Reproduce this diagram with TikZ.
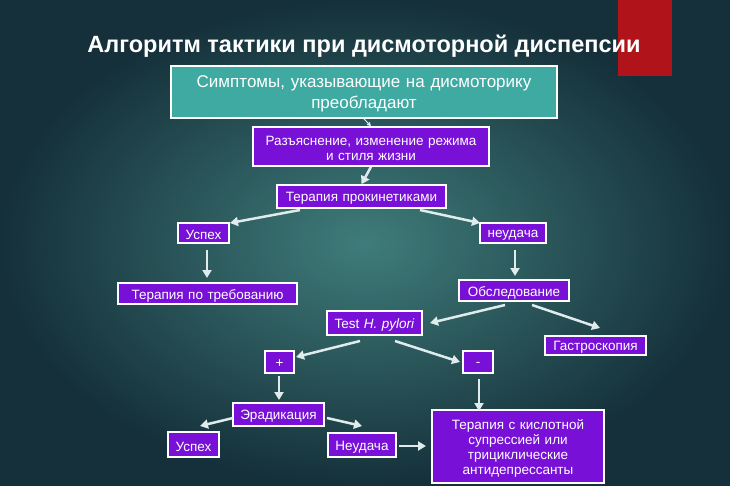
\documentclass[tikz,border=0pt]{standalone}
\usepackage{fontspec}
\setmainfont{Liberation Sans}
\usetikzlibrary{arrows.meta}
\definecolor{bgin}{HTML}{3F7C7A}
\definecolor{bgout}{HTML}{15303A}
\definecolor{teal}{HTML}{3FAAA2}
\definecolor{purp}{HTML}{7810D8}
\definecolor{redb}{HTML}{B0141A}
\definecolor{arr}{HTML}{E0ECEC}
\tikzset{
 pbox/.style={draw=white,line width=1.5pt,fill=purp,inner sep=0pt},
 ptext/.style={text=white,font=\fontsize{13.5}{15}\selectfont,inner sep=0pt,align=center},
 con/.style={draw=arr,line width=2.5pt,-{Triangle[length=8pt,width=9pt]}}
}
\newcommand{\bx}[6]{\node[pbox,minimum width=#4-#2,minimum height=#5-#3] (#1) at ({(#2+#4)/2},{(#3+#5)/2}) {};
\node[ptext,text width=#4-#2-4] (#1t) at ({(#2+#4)/2},{(#3+#5)/2+2}) {#6};}
\begin{document}
\begin{tikzpicture}[x=1pt,y=-1pt]
\useasboundingbox (0,0) rectangle (730,486);
\shade[inner color=bgin,outer color=bgout] (0,0) rectangle (730,486);
\fill[redb] (618,0) rectangle (672,76);
\node[text=white,font=\bfseries\fontsize{23.5}{26}\selectfont] (title) at (364,46) {Алгоритм тактики при дисмоторной диспепсии};
\node[draw=white,line width=1.8pt,fill=teal,minimum width=386,minimum height=52,inner sep=0pt] (top) at (364,92) {};
\node[text=white,font=\fontsize{17}{21}\selectfont,text width=384,align=center,inner sep=0pt] (topt) at (364,94) {Симптомы, указывающие на дисмоторику\\преобладают};
\bx{raz}{253}{127}{489}{166}{Разъяснение, изменение режима\\и стиля жизни}
\bx{pro}{277}{185}{446}{208}{Терапия прокинетиками}
\bx{us1}{178}{223}{229}{243}{Успех}
\bx{neu1}{480}{223}{546}{243}{неудача}
\bx{treb}{118}{283}{297}{304}{Терапия по требованию}
\bx{obs}{459}{280}{569}{301}{Обследование}
\bx{hp}{327}{311}{422}{335}{Test \textit{H. pylori}}
\bx{gas}{545}{336}{646}{355}{Гастроскопия}
\bx{plus}{265}{351}{294}{373}{+}
\bx{minus}{463}{351}{493}{373}{-}
\bx{era}{233}{403}{324}{426}{Эрадикация}
\bx{us2}{168}{432}{219}{457}{Успех}
\bx{neu2}{328}{433}{396}{457}{Неудача}
\bx{ter}{432}{410}{604}{483}{Терапия с кислотной\\супрессией или\\трициклические\\антидепрессанты}
\coordinate (a1) at (300,210); \coordinate (b1) at (230,223);
\coordinate (a2) at (420,210); \coordinate (b2) at (480,223);
\coordinate (a3) at (207,250); \coordinate (b3) at (207,278);
\coordinate (a4) at (515,250); \coordinate (b4) at (515,276);
\coordinate (a5) at (505,305); \coordinate (b5) at (430,323);
\coordinate (a6) at (532,305); \coordinate (b6) at (600,328);
\coordinate (a7) at (360,341); \coordinate (b7) at (296,357);
\coordinate (a8) at (395,341); \coordinate (b8) at (460,362);
\coordinate (a9) at (279,376); \coordinate (b9) at (279,400);
\coordinate (a10) at (233,418); \coordinate (b10) at (200,426);
\coordinate (a11) at (327,418); \coordinate (b11) at (362,426);
\coordinate (a12) at (399,446); \coordinate (b12) at (426,446);
\coordinate (a13) at (479,379); \coordinate (b13) at (479,411);
\draw[con,line width=1pt,-{Triangle[length=4pt,width=4pt]}] (top.south) -- (raz.north);
\draw[con] (raz.south) -- (pro.north);
\draw[con] (a1) -- (b1);
\draw[con] (a2) -- (b2);
\draw[con] (a3) -- (b3);
\draw[con] (a4) -- (b4);
\draw[con] (a5) -- (b5);
\draw[con] (a6) -- (b6);
\draw[con] (a7) -- (b7);
\draw[con] (a8) -- (b8);
\draw[con] (a9) -- (b9);
\draw[con] (a10) -- (b10);
\draw[con] (a11) -- (b11);
\draw[con] (a12) -- (b12);
\draw[con] (a13) -- (b13);
\end{tikzpicture}
\end{document}
